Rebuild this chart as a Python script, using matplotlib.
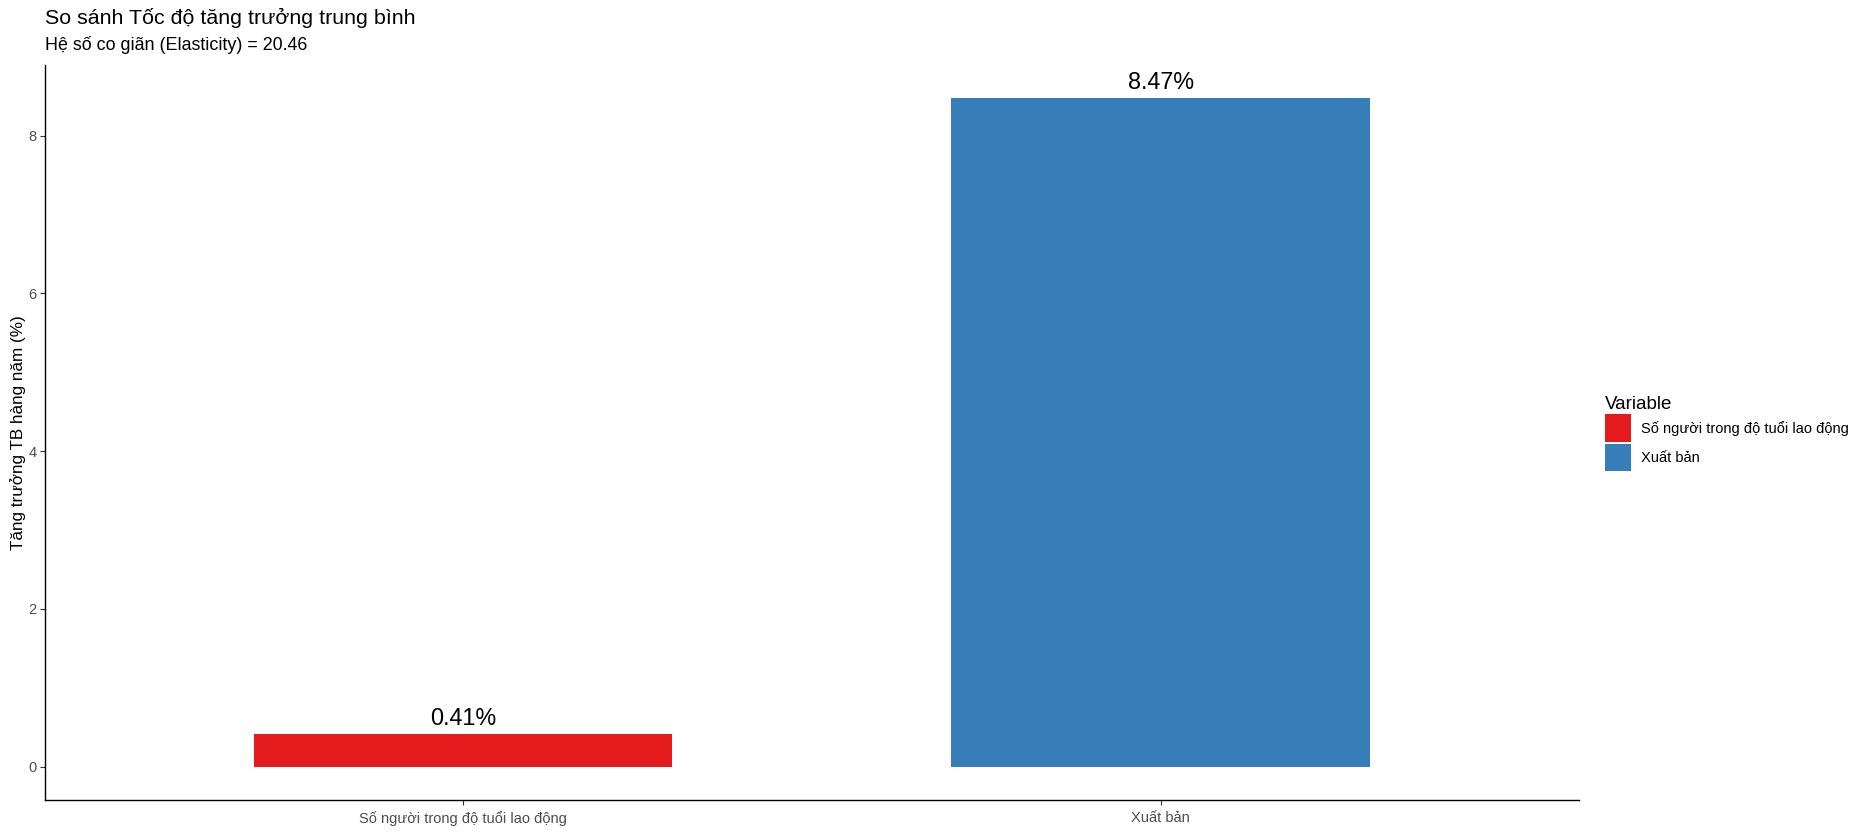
import matplotlib
matplotlib.use("Agg")
import matplotlib.pyplot as plt
from matplotlib.patches import Patch

plt.rcParams['font.family'] = ['Liberation Sans', 'DejaVu Sans']

# data
categories = ['Số người trong độ tuổi lao động', 'Xuất bản']
growth = [0.41, 8.47]
colors = ['#E41A1C', '#377EB8']
elasticity = 20.46

fig = plt.figure(figsize=(18.64, 8.39), dpi=100)
ax = fig.add_axes([0.0241, 0.0465, 0.8230, 0.8760])

x = list(range(1, len(categories) + 1))
ax.bar(x, growth, width=0.6, color=colors)

for xi, v in zip(x, growth):
    ax.annotate('%.2f%%' % v, (xi, v), xytext=(0, 3), textcoords='offset points',
                ha='center', va='bottom', fontsize=16.8, color='black')

ax.set_xlim(0.4, len(categories) + 0.6)
ax.set_ylim(-0.4235, 8.894)
ax.set_xticks(x)
ax.set_xticklabels(categories)
ax.set_yticks([0, 2, 4, 6, 8])

for s in ['top', 'right']:
    ax.spines[s].set_visible(False)
for s in ['left', 'bottom']:
    ax.spines[s].set_linewidth(1.0)
    ax.spines[s].set_color('black')
ax.tick_params(axis='both', length=3.5, width=0.8, color='#333333',
               labelsize=10.5, labelcolor='#4D4D4D', pad=2.5)
ax.tick_params(axis='x', pad=4.5)

ax.set_ylabel('Tăng trưởng TB hàng năm (%)', fontsize=12.3, labelpad=2)

fig.text(0.0241, 0.979, 'So sánh Tốc độ tăng trưởng trung bình', fontsize=15.4,
         ha='left', va='center')
fig.text(0.0241, 0.946, 'Hệ số co giãn (Elasticity) = %.2f' % elasticity, fontsize=12.9,
         ha='left', va='center')

handles = [Patch(facecolor=c, edgecolor='none') for c in colors]
leg = fig.legend(handles, categories, title='Variable', loc='upper left',
                 bbox_to_anchor=(0.858, 0.535), frameon=False, fontsize=10.5,
                 title_fontsize=13.5, alignment='left', handlelength=1.8,
                 handleheight=2.55, handletextpad=0.65, labelspacing=0.1,
                 borderaxespad=0)

fig.savefig('out.png', dpi=100)
